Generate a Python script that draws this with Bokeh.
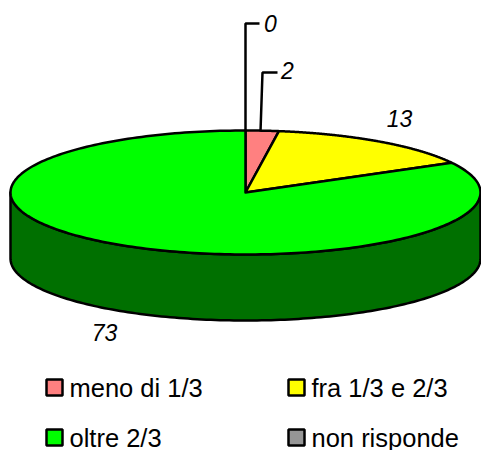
import numpy as np
from bokeh.plotting import figure
from bokeh.embed import file_html
from bokeh.resources import INLINE
from bokeh.core.properties import value

categories = ["meno di 1/3", "fra 1/3 e 2/3", "oltre 2/3", "non risponde"]
values = [2, 13, 73, 0]
labels = ["2", "13", "73", "0"]
top_colors = ["#FF8080", "#FFFF00", "#00FF00", "#969696"]
wall_colors = ["#803F3F", "#808000", "#007000", "#4B4B4B"]

CX, CY, RX, RY, DEPTH = 245, 192, 235, 62, 66

p = figure(width=481, height=450, x_range=(0, 481), y_range=(450, 0),
           output_backend="svg", toolbar_location=None, min_border=0,
           outline_line_color=None, background_fill_color="white")
p.axis.visible = False
p.grid.visible = False

def pt(t):
    return CX + RX * np.sin(t), CY - RY * np.cos(t)

edges = np.concatenate([[0], np.cumsum(values)]) / sum(values) * 2 * np.pi
ink = dict(line_color="black", line_width=2.5, line_join="round")

# walls: visible only where the rim faces the viewer (90 to 270 degrees)
for a, b, c in zip(edges[:-1], edges[1:], wall_colors):
    lo, hi = max(a, np.pi / 2), min(b, 3 * np.pi / 2)
    if hi <= lo:
        continue
    t = np.linspace(lo, hi, 160)
    x, y = pt(t)
    p.patch(np.r_[x, x[::-1]], np.r_[y, y[::-1] + DEPTH], fill_color=c, **ink)

# top faces
for a, b, c in zip(edges[:-1], edges[1:], top_colors):
    if b <= a:
        continue
    t = np.linspace(a, b, 240)
    x, y = pt(t)
    p.patch(np.r_[CX, x], np.r_[CY, y], fill_color=c, **ink)

# leader lines
p.line([245, 245, 259], [131, 23, 23], line_color="black", line_width=2.5)
p.line([260, 262, 277], [131, 72, 72], line_color="black", line_width=2.5)

label_font = dict(text_font=value("Liberation Sans"), text_font_size="23px",
                  text_font_style="italic", text_color="black",
                  text_align="center", text_baseline="middle")
p.text([270, 287, 399, 104], [23, 70, 118, 332],
       text=[labels[3], labels[0], labels[1], labels[2]], **label_font)

# legend
leg_x = [54, 296, 54, 296]
leg_y = [387, 387, 437, 437]
p.rect(leg_x, leg_y, width=16, height=16, fill_color=top_colors,
       line_color="black", line_width=2.5)
p.text([x + 15 for x in leg_x], leg_y, text=categories,
       text_font=value("Liberation Sans"), text_font_size="25.5px",
       text_color="black", text_align="left", text_baseline="middle")

open("out.html", "w").write(file_html(p, INLINE))
